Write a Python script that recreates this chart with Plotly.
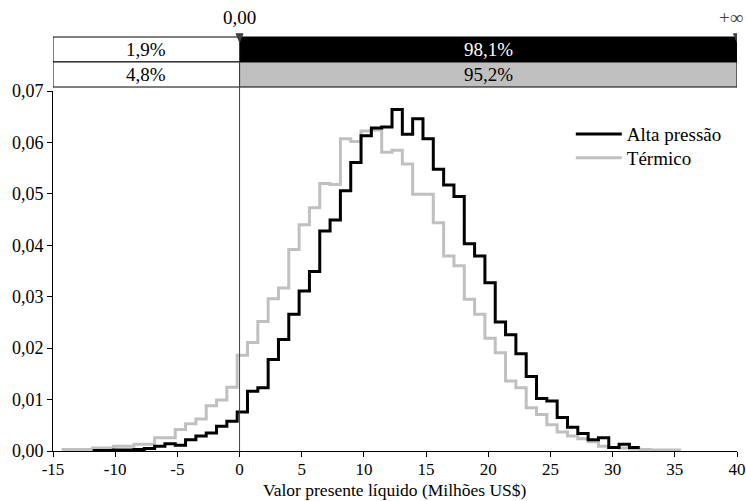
import plotly.graph_objects as go

# ---- data ----
BIN_START = -14.3
BIN_WIDTH = 0.83
alta_pressao = [None, None, None, 0.0001, 0.0001, 0.0002, 0.0002, 0.0003, 0.0005, 0.0009,
                0.0014, 0.0011, 0.0022, 0.0029, 0.0035, 0.0048, 0.0058, 0.0076, 0.0116, 0.0123,
                0.0178, 0.0217, 0.0266, 0.0311, 0.0349, 0.0428, 0.0449, 0.0506, 0.0561, 0.0613,
                0.0628, 0.0630, 0.0664, 0.0616, 0.0646, 0.0607, 0.0548, 0.0517, 0.0495, 0.0403,
                0.0379, 0.0327, 0.0251, 0.0226, 0.0189, 0.0145, 0.0102, 0.0097, 0.0065, 0.0046,
                0.0034, 0.0022, 0.0026, 0.0007, 0.0013, 0.0007, None, None, None, None]
termico = [0.0003, 0.0003, 0.0003, 0.0006, 0.0006, 0.0009, 0.0009, 0.0013, 0.0013, 0.0026,
           0.0026, 0.0042, 0.0053, 0.0062, 0.0088, 0.0099, 0.0124, 0.0186, 0.0211, 0.0252,
           0.0296, 0.0317, 0.0392, 0.0440, 0.0473, 0.0520, 0.0518, 0.0607, 0.0602, 0.0622,
           0.0624, 0.0581, 0.0585, 0.0558, 0.0499, 0.0499, 0.0444, 0.0379, 0.0360, 0.0295,
           0.0266, 0.0219, 0.0191, 0.0136, 0.0123, 0.0084, 0.0071, 0.0051, 0.0037, 0.0029,
           0.0024, 0.0018, 0.0009, 0.0007, 0.0006, 0.0004, 0.0003, 0.0002, 0.0002, 0.0002]
series_names = ["Alta pressão", "Térmico"]
delimiter_left = 0.0
delimiter_right = 40.0
pct_left = [1.9, 4.8]
pct_right = [98.1, 95.2]
x_tick_vals = [-15, -10, -5, 0, 5, 10, 15, 20, 25, 30, 35, 40]
x_tick_text = ["-15", "-10", "-5", "0", "5", "10", "15", "20", "25", "30", "35", "40"]
y_tick_vals = [0.0, 0.01, 0.02, 0.03, 0.04, 0.05, 0.06, 0.07]
x_title = "Valor presente líquido (Milhões US$)"

FONT = "Liberation Serif"
BLACK = "#000000"
GRAY = "#c0c0c0"


def step_xy(vals):
    idx = [i for i, v in enumerate(vals) if v is not None]
    a, b = idx[0], idx[-1]
    xs = [BIN_START + BIN_WIDTH * k for k in range(a, b + 2)]
    ys = [vals[k] for k in range(a, b + 1)] + [vals[b]]
    return xs, ys


fig = go.Figure()
xg, yg = step_xy(termico)
xb, yb = step_xy(alta_pressao)
fig.add_trace(go.Scatter(x=xg, y=yg, mode="lines", line=dict(shape="hv", color=GRAY, width=3),
                         name=series_names[1], legend="legend2", showlegend=True))
fig.add_trace(go.Scatter(x=xb, y=yb, mode="lines", line=dict(shape="hv", color=BLACK, width=3),
                         name=series_names[0], legend="legend", showlegend=True))

# header bars
r1_top, r1_bot, r2_bot = 1.15, 1.0806, 1.0111
shapes = []
fills = [(("white", "black"), ("black", "white")), (("white", "black"), (GRAY, "black"))]
rows = [(r1_bot, r1_top), (r2_bot, r1_bot)]
annotations = []
for i, (y0, y1) in enumerate(rows):
    (lf, lt), (rf, rt) = fills[i]
    shapes.append(dict(type="rect", xref="x", yref="paper", x0=-15, x1=delimiter_left, y0=y0, y1=y1,
                       fillcolor=lf, line=dict(color="black", width=1), layer="above"))
    shapes.append(dict(type="rect", xref="x", yref="paper", x0=delimiter_left, x1=delimiter_right, y0=y0, y1=y1,
                       fillcolor=rf, line=dict(color="black", width=1), layer="above"))
    annotations.append(dict(x=(-15 + delimiter_left) / 2, y=(y0 + y1) / 2, xref="x", yref="paper",
                            yanchor="middle", xanchor="center",
                            text=f"{pct_left[i]:.1f}%".replace(".", ","), showarrow=False,
                            font=dict(family=FONT, size=19, color=lt)))
    annotations.append(dict(x=(delimiter_left + delimiter_right) / 2, y=(y0 + y1) / 2, xref="x", yref="paper",
                            yanchor="middle", xanchor="center",
                            text=f"{pct_right[i]:.1f}%".replace(".", ","), showarrow=False,
                            font=dict(family=FONT, size=19, color=rt)))

# delimiter line
shapes.append(dict(type="line", xref="x", yref="paper", x0=delimiter_left, x1=delimiter_left, y0=0, y1=r1_top,
                   line=dict(color="#404040", width=1), layer="above"))
# triangles
for xv in (delimiter_left, delimiter_right):
    shapes.append(dict(type="path", xref="x", yref="paper",
                       path=f"M {xv-0.28},1.159 L {xv+0.28},1.159 L {xv},1.136 Z",
                       fillcolor="#404040", line=dict(color="#404040", width=1), layer="above"))

annotations.append(dict(x=delimiter_left, y=1.203, xref="x", yref="paper", text="0,00", showarrow=False,
                        yanchor="middle", font=dict(family=FONT, size=19, color="black")))
annotations.append(dict(x=delimiter_right, y=1.203, xref="x", yref="paper", text="+∞", showarrow=False,
                        yanchor="middle", xshift=-6, font=dict(family=FONT, size=19, color="#404040")))
# x-axis title
annotations.append(dict(x=0.5, y=-0.107, xref="paper", yref="paper", text=x_title, showarrow=False,
                        xanchor="center", yanchor="middle", borderpad=0,
                        font=dict(family=FONT, size=17.5, color="black")))

legend_common = dict(xanchor="left", yanchor="top", bgcolor="rgba(0,0,0,0)",
                     font=dict(family=FONT, size=19), itemwidth=46, visible=True)

fig.update_layout(
    width=746, height=501,
    margin=dict(l=53, r=9, t=91, b=50, autoexpand=False),
    paper_bgcolor="white", plot_bgcolor="white",
    separators=",.",
    showlegend=True,
    font=dict(family=FONT, size=19, color="black"),
    shapes=shapes, annotations=annotations,
    legend=dict(x=0.757, y=0.933, **legend_common),
    legend2=dict(x=0.757, y=0.867, **legend_common),
    xaxis=dict(range=[-15, 40], tickvals=x_tick_vals, ticktext=x_tick_text, showgrid=False, zeroline=False,
               showline=True, linecolor="black", linewidth=1, ticks="outside", ticklen=5, tickcolor="black",
               ticklabelstandoff=-2,
               automargin=False, tickfont=dict(family=FONT, size=17)),
    yaxis=dict(range=[0, 0.07], tickvals=y_tick_vals, tickformat=".2f", showgrid=False, zeroline=False,
               showline=True, linecolor="black", linewidth=1, ticks="outside", ticklen=5, tickcolor="black",
               automargin=False, tickfont=dict(family=FONT, size=18)),
)

fig.write_html("out.html")
